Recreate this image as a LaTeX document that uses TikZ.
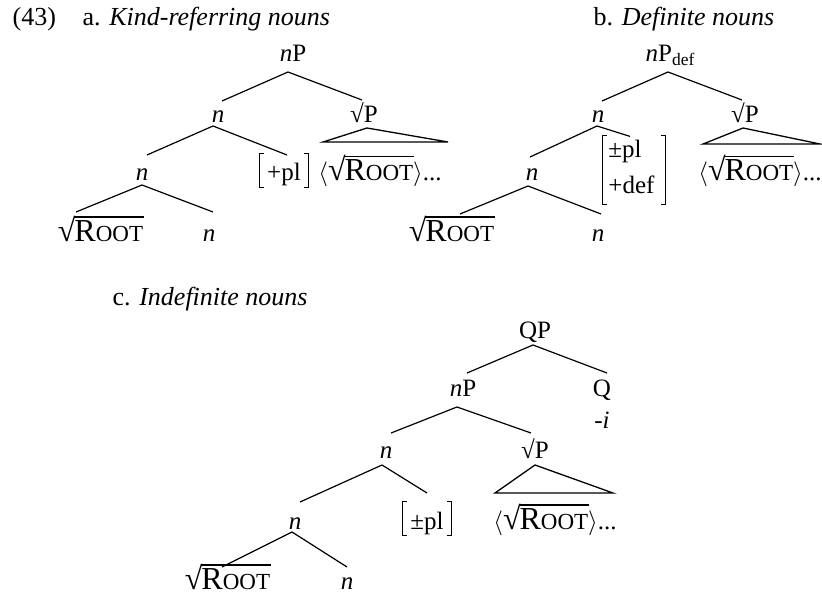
\documentclass[tikz,border=0pt]{standalone}
\usepackage{fontspec}
\setmainfont{Liberation Serif}
\newsavebox\rtbox
\newcommand{\Rt}{\sbox\rtbox{{\fontsize{32}{32}\selectfont R}{\fontsize{23}{23}\selectfont OOT}\kern1pt}\mbox{{\fontsize{32}{32}\selectfont √}\kern-1pt\rlap{\rule[23.5pt]{\wd\rtbox}{1.2pt}}\usebox\rtbox}}
\newcommand{\RtAng}{$\langle$\Rt\kern-1pt$\rangle$...}
\tikzset{
  lbl/.style={anchor=base west, font=\fontsize{26}{31}\selectfont},
  brk/.style={text height=27pt, text depth=6pt, inner xsep=7pt},
  brline/.style={line width=0.8pt},
  tri/.style={line width=1.3pt, line join=miter}
}
\newcommand{\brackets}[1]{%
  \draw[brline] ([xshift=4pt]#1.north west) -- (#1.north west) -- (#1.south west) -- ([xshift=4pt]#1.south west);
  \draw[brline] ([xshift=-4pt]#1.north east) -- (#1.north east) -- (#1.south east) -- ([xshift=-4pt]#1.south east);}
\begin{document}
\begin{tikzpicture}[x=1pt,y=-1pt,
  every node/.style={inner sep=0pt, anchor=base},
  font=\fontsize{25}{30}\selectfont, line width=1.2pt]
\useasboundingbox (0,0) rectangle (822,596);
% titles
\node[lbl] (ex) at (12,26) {(43)};
\node[lbl] (ta) at (82,26) {a. \textit{Kind-referring nouns}};
\node[lbl] (tb) at (593,26) {b. \textit{Definite nouns}};
\node[lbl] (tc) at (112,305) {c. \textit{Indefinite nouns}};
% tree a
\node (nPa) at (293,62) {\textit{n}P};
\node (na2) at (218,123) {\textit{n}};
\node (rPa) at (364,123) {√P};
\node (na3) at (142,181) {\textit{n}};
\node[brk] (pla) at (284,181) {+pl};
\brackets{pla}
\node (ra) at (380,181) {\RtAng};
\node (rta) at (101,241) {\Rt};
\node (na4) at (209,241) {\textit{n}};
\draw ([shift={(-5,10)}]nPa.base) -- ([shift={(4,-22)}]na2.base);
\draw ([shift={(-5,10)}]nPa.base) -- ([shift={(-2,-23)}]rPa.base);
\draw ([shift={(-5,3)}]na2.base) -- ([shift={(5,-26)}]na3.base);
\draw ([shift={(-5,3)}]na2.base) -- ([shift={(3,-26)}]pla.base);
\draw ([shift={(0,4)}]na3.base) -- ([shift={(-25,-29)}]rta.base);
\draw ([shift={(0,4)}]na3.base) -- ([shift={(4,-29)}]na4.base);
\draw[tri] ([shift={(3,5)}]rPa.base) -- ([shift={(-57,-39)}]ra.base) -- ([shift={(68,-39)}]ra.base) -- cycle;
% tree b
\node[lbl, font=\fontsize{25}{30}\selectfont] (nPb) at (645,62) {\textit{n}P\textsubscript{def}};
\node (nb2) at (598,123) {\textit{n}};
\node (rPb) at (745,123) {√P};
\node[anchor=center, minimum height=68pt] (matb) at (634,170) {\begin{tabular}{@{\hspace{5pt}}l@{\hspace{10pt}}}±pl\\[6pt]+def\end{tabular}};
\brackets{matb}
\node (nb3) at (532,181) {\textit{n}};
\node (rb) at (760,181) {\RtAng};
\node (rtb) at (452,241) {\Rt};
\node (nb4) at (598,241) {\textit{n}};
\draw ([shift={(23,10)}]nPb.base west) -- ([shift={(4,-22)}]nb2.base);
\draw ([shift={(23,10)}]nPb.base west) -- ([shift={(-3,-23)}]rPb.base);
\draw ([shift={(-1,3)}]nb2.base) -- ([shift={(-2,-24)}]nb3.base);
\draw ([shift={(-1,3)}]nb2.base) -- ([shift={(-4,1)}]matb.north);
\draw ([shift={(-4,5)}]nb3.base) -- ([shift={(8,-27)}]rtb.base);
\draw ([shift={(-4,5)}]nb3.base) -- ([shift={(3,-27)}]nb4.base);
\draw[tri] ([shift={(-2,5)}]rPb.base) -- ([shift={(-57,-37)}]rb.base) -- ([shift={(60,-37)}]rb.base) -- cycle;
% tree c
\node (QP) at (535,338) {QP};
\node (nPc) at (463,396) {\textit{n}P};
\node (Q) at (602,396) {Q};
\node (mi) at (602,428) {-\textit{i}};
\node (nc2) at (386,458) {\textit{n}};
\node (rPc) at (535,458) {√P};
\node (nc3) at (295,529) {\textit{n}};
\node[brk] (plc) at (427,529) {±pl};
\brackets{plc}
\node (rc) at (555,529) {\RtAng};
\node (rtc) at (228,589) {\Rt};
\node (nc4) at (347,589) {\textit{n}};
\draw ([shift={(-2,7)}]QP.base) -- ([shift={(4,-23)}]nPc.base);
\draw ([shift={(-2,7)}]QP.base) -- ([shift={(5,-23)}]Q.base);
\draw ([shift={(-6,11)}]nPc.base) -- ([shift={(5,-25)}]nc2.base);
\draw ([shift={(-6,11)}]nPc.base) -- ([shift={(-4,-25)}]rPc.base);
\draw ([shift={(-4,7)}]nc2.base) -- ([shift={(5,-27)}]nc3.base);
\draw ([shift={(-4,7)}]nc2.base) -- ([shift={(0,-36)}]plc.base);
\draw[tri] ([shift={(0,7)}]rPc.base) -- ([shift={(-60,-36)}]rc.base) -- ([shift={(58,-36)}]rc.base) -- cycle;
\draw ([shift={(-3,3)}]nc3.base) -- ([shift={(-6,-22)}]rtc.base);
\draw ([shift={(-3,3)}]nc3.base) -- ([shift={(0,-22)}]nc4.base);
\end{tikzpicture}
\end{document}
